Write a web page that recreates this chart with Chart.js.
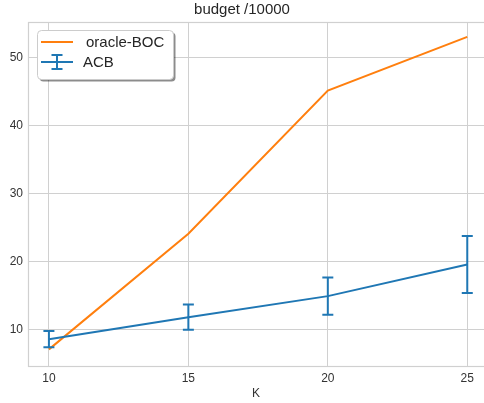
<!DOCTYPE html>
<html>
<head>
<meta charset="utf-8">
<script src="https://cdn.jsdelivr.net/npm/chart.js@4"></script>
<style>
  html, body { margin: 0; padding: 0; background: #fff; }
  #wrap { width: 484px; height: 403px; }
</style>
</head>
<body>
<div id="wrap"><canvas id="chart"></canvas></div>
<script>
// values
const kValues = [10, 15, 20, 25];
const oracleBoc = [7.05, 24.1, 45.2, 53.1];
const acbMean = [8.55, 11.8, 14.9, 19.55];
const acbErr = [1.2, 1.85, 2.75, 4.2];
const yTicks = [10, 20, 30, 40, 50];

const ORANGE = '#ff7f0e';
const BLUE = '#1f77b4';
const GRID = '#d0d0d0';
const FONT = "'Liberation Sans', Arial, sans-serif";

// vertical error bars with caps, drawn from the dataset's own scales
const errorBars = {
    id: 'errorBars',
    afterDatasetsDraw(chart) {
        let ctx = chart.ctx;
        chart.data.datasets.forEach((ds, i) => {
            if (!ds.errors) return;
            let xs = chart.scales.x, ys = chart.scales.y;
            ctx.save();
            ctx.strokeStyle = ds.borderColor;
            ctx.lineWidth = 2;
            ds.data.forEach((p, j) => {
                let x = xs.getPixelForValue(p.x);
                let yTop = ys.getPixelForValue(p.y + ds.errors[j]);
                let yBot = ys.getPixelForValue(p.y - ds.errors[j]);
                ctx.beginPath();
                ctx.moveTo(x, yTop); ctx.lineTo(x, yBot);
                ctx.moveTo(x - 5.5, yTop); ctx.lineTo(x + 5.5, yTop);
                ctx.moveTo(x - 5.5, yBot); ctx.lineTo(x + 5.5, yBot);
                ctx.stroke();
            });
            ctx.restore();
        });
    }
};

// axes frame plus matplotlib style legend box with shadow
const frameAndLegend = {
    id: 'frameAndLegend',
    beforeDatasetsDraw(chart) {
        let a = chart.chartArea, ctx = chart.ctx;
        ctx.save();
        ctx.strokeStyle = GRID;
        ctx.lineWidth = 1.2;
        ctx.strokeRect(a.left + 0.5, a.top + 0.5, a.right - a.left + 4, a.bottom - a.top);
        ctx.restore();
    },
    afterDraw(chart) {
        let ctx = chart.ctx;
        let a = chart.chartArea;
        let bx = a.left + 9, by = a.top + 8, bw = 136, bh = 49;
        ctx.save();
        ctx.fillStyle = 'rgba(0,0,0,0.45)';
        roundRect(ctx, bx + 2.5, by + 2.5, bw, bh, 4);
        ctx.fill();
        ctx.fillStyle = '#ffffff';
        ctx.strokeStyle = '#cccccc';
        ctx.lineWidth = 1;
        roundRect(ctx, bx + 0.5, by + 0.5, bw, bh, 4);
        ctx.fill();
        ctx.stroke();

        let labels = chart.data.datasets.map(d => d.label);
        ctx.font = '15px ' + FONT;
        ctx.textBaseline = 'middle';
        ctx.fillStyle = '#262626';
        // oracle-BOC line
        let y1 = by + 12;
        ctx.strokeStyle = ORANGE;
        ctx.lineWidth = 2;
        ctx.beginPath(); ctx.moveTo(bx + 4, y1); ctx.lineTo(bx + 36, y1); ctx.stroke();
        ctx.fillText(labels[0], bx + 49, y1 + 1);
        // ACB errorbar symbol
        let y2 = by + 32;
        ctx.strokeStyle = BLUE;
        ctx.beginPath();
        ctx.moveTo(bx + 4, y2); ctx.lineTo(bx + 36, y2);
        ctx.moveTo(bx + 20, y2 - 7); ctx.lineTo(bx + 20, y2 + 7);
        ctx.moveTo(bx + 14.5, y2 - 7); ctx.lineTo(bx + 25.5, y2 - 7);
        ctx.moveTo(bx + 14.5, y2 + 7); ctx.lineTo(bx + 25.5, y2 + 7);
        ctx.stroke();
        ctx.fillText(labels[1], bx + 46, y2 + 1);
        ctx.restore();
    }
};

function roundRect(ctx, x, y, w, h, r) {
    ctx.beginPath();
    ctx.moveTo(x + r, y);
    ctx.lineTo(x + w - r, y);
    ctx.quadraticCurveTo(x + w, y, x + w, y + r);
    ctx.lineTo(x + w, y + h - r);
    ctx.quadraticCurveTo(x + w, y + h, x + w - r, y + h);
    ctx.lineTo(x + r, y + h);
    ctx.quadraticCurveTo(x, y + h, x, y + h - r);
    ctx.lineTo(x, y + r);
    ctx.quadraticCurveTo(x, y, x + r, y);
    ctx.closePath();
}

window.onload = function() {
    let ctx = document.getElementById('chart').getContext('2d');
    new Chart(ctx, {
        type: 'line',
        data: {
            datasets: [
                {
                    label: 'oracle-BOC',
                    data: kValues.map((k, i) => ({ x: k, y: oracleBoc[i] })),
                    borderColor: ORANGE,
                    borderWidth: 2,
                    pointRadius: 0,
                    tension: 0,
                    order: 1
                },
                {
                    label: 'ACB',
                    data: kValues.map((k, i) => ({ x: k, y: acbMean[i] })),
                    errors: acbErr,
                    borderColor: BLUE,
                    borderWidth: 2,
                    pointRadius: 0,
                    tension: 0,
                    order: 0
                }
            ]
        },
        options: {
            responsive: true,
            maintainAspectRatio: false,
            animation: false,
            layout: { padding: { left: 0, right: 0, top: 0, bottom: 0 } },
            plugins: {
                legend: { display: false },
                tooltip: { enabled: false },
                title: {
                    display: true,
                    text: 'budget /10000',
                    color: '#262626',
                    font: { family: FONT, size: 15, weight: 'normal' },
                    padding: { top: 1, bottom: 3 }
                }
            },
            scales: {
                x: {
                    type: 'linear',
                    min: 9.25,
                    max: 25.6,
                    afterBuildTicks: s => { s.ticks = kValues.map(v => ({ value: v })); },
                    afterFit: s => { s.height = 37; },
                    grid: { color: GRID, lineWidth: 1, drawTicks: false },
                    border: { display: false },
                    ticks: { color: '#333', padding: 5, font: { family: FONT, size: 12 } },
                    title: {
                        display: true,
                        text: 'K',
                        color: '#333',
                        font: { family: FONT, size: 12 },
                        padding: { top: 2, bottom: 2 }
                    }
                },
                y: {
                    min: 4.6,
                    max: 55.3,
                    afterBuildTicks: s => { s.ticks = yTicks.map(v => ({ value: v })); },
                    afterFit: s => { s.width = 28; },
                    grid: { color: GRID, lineWidth: 1, drawTicks: false },
                    border: { display: false },
                    ticks: { color: '#333', padding: 5, font: { family: FONT, size: 12 } }
                }
            }
        },
        plugins: [frameAndLegend, errorBars]
    });
};
</script>
</body>
</html>
